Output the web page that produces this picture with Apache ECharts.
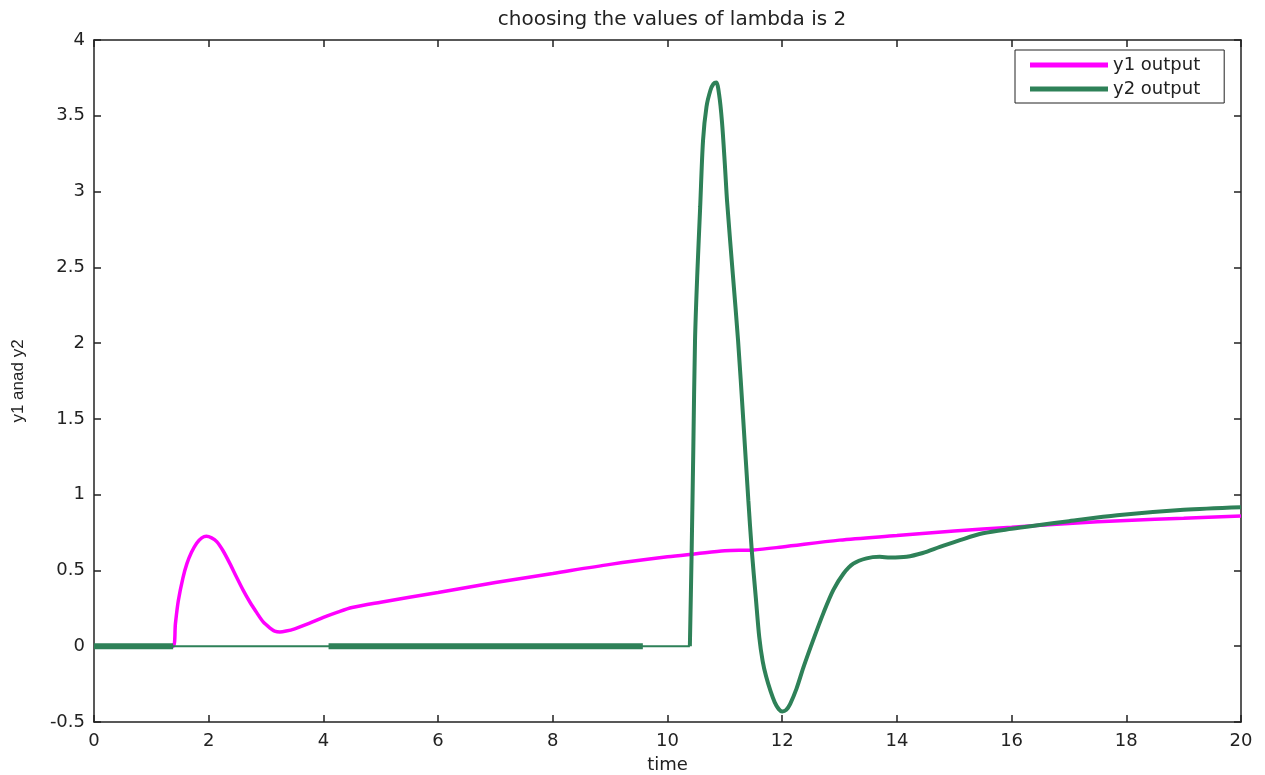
<!DOCTYPE html>
<html>
<head>
	<meta http-equiv="Content-Type" content="text/html;charset=utf-8">
	<title>choosing the values of lambda is 2</title>
	<style>
		html, body{ margin:0; padding:0; background:#fff; }
		#chart{ width:1265px; height:775px; }
	</style>
</head>
<body>
<div id="chart"></div>
<script src="https://cdn.jsdelivr.net/npm/echarts@6/dist/echarts.min.js"></script>
<script>
	// y1 output (magenta)
	var y1Time = [0, 1.38, 1.42, 1.47, 1.55, 1.62, 1.70, 1.79, 1.88, 1.96, 2.05, 2.14, 2.25, 2.37, 2.48, 2.60, 2.72, 2.84, 2.95, 3.07, 3.15, 3.24, 3.35, 3.50, 3.75, 4.00, 4.25, 4.50, 5.00, 6.00, 7.00, 8.00, 9.00, 10.00, 10.50, 11.00, 11.50, 12.00, 13.00, 14.00, 15.00, 16.00, 17.00, 18.00, 19.00, 20.00];
	var y1Value = [0, 0, 0.15, 0.30, 0.45, 0.545, 0.62, 0.68, 0.715, 0.725, 0.715, 0.69, 0.63, 0.545, 0.46, 0.37, 0.29, 0.22, 0.16, 0.12, 0.10, 0.094, 0.10, 0.115, 0.15, 0.19, 0.225, 0.255, 0.29, 0.355, 0.42, 0.48, 0.54, 0.59, 0.61, 0.63, 0.635, 0.655, 0.70, 0.73, 0.76, 0.785, 0.81, 0.83, 0.845, 0.86];

	// y2 output (green) after it leaves zero
	var y2Time = [10.39, 10.42, 10.45, 10.48, 10.52, 10.57, 10.62, 10.68, 10.75, 10.80, 10.85, 10.90, 10.95, 11.00, 11.04, 11.14, 11.23, 11.32, 11.41, 11.47, 11.54, 11.60, 11.66, 11.72, 11.80, 11.87, 11.94, 12.00, 12.07, 12.14, 12.25, 12.37, 12.54, 12.72, 12.89, 13.07, 13.24, 13.47, 13.70, 13.88, 14.17, 14.45, 14.75, 15.10, 15.50, 16.00, 16.49, 17.00, 17.84, 19.00, 20.00];
	var y2Value = [0, 0.6, 1.3, 2.02, 2.46, 2.90, 3.34, 3.56, 3.67, 3.71, 3.72, 3.64, 3.46, 3.18, 2.93, 2.45, 2.02, 1.50, 0.96, 0.63, 0.32, 0.06, -0.10, -0.20, -0.30, -0.37, -0.415, -0.43, -0.42, -0.38, -0.28, -0.14, 0.04, 0.22, 0.37, 0.48, 0.545, 0.58, 0.59, 0.585, 0.59, 0.615, 0.655, 0.70, 0.745, 0.775, 0.80, 0.825, 0.864, 0.90, 0.917];

	// y2 sits at zero before the spike; some stretches are drawn heavier
	var y2ZeroTime = [0, 10.39];
	var y2HeavyStart = [0, 4.09];
	var y2HeavyEnd = [1.38, 9.57];

	var xTicks = [0, 20, 2];
	var yTicks = [-0.5, 4, 0.5];

	var magenta = '#ff00ff';
	var green = '#2e8158';
	var ink = '#222';
	var font = 'DejaVu Sans';

	function pairs(xs, ys){
		var out = [];
		for(var i = 0; i < xs.length; i++){
			out.push([xs[i], ys[i]]);
		}
		return out;
	}

	var series = [
		{
			name : 'y1 output',
			type : 'line',
			data : pairs(y1Time, y1Value),
			showSymbol : false,
			smooth : 0.3,
			lineStyle : { color : magenta, width : 3.5 },
			itemStyle : { color : magenta },
			z : 2
		},
		{
			name : 'y2 base',
			type : 'line',
			data : pairs(y2ZeroTime, [0, 0]),
			showSymbol : false,
			lineStyle : { color : green, width : 2 },
			z : 3
		}
	];
	for(var k = 0; k < y2HeavyStart.length; k++){
		series.push({
			name : 'y2 heavy',
			type : 'line',
			data : [[y2HeavyStart[k], 0], [y2HeavyEnd[k], 0]],
			showSymbol : false,
			lineStyle : { color : green, width : 6 },
			z : 3
		});
	}
	series.push({
		name : 'y2 output',
		type : 'line',
		data : pairs(y2Time, y2Value),
		showSymbol : false,
		smooth : 0.3,
		lineStyle : { color : green, width : 4 },
		itemStyle : { color : green },
		z : 4
	});

	var axisLine = { onZero : false, lineStyle : { color : ink, width : 1.5 } };
	var axisTick = { inside : true, length : 7, lineStyle : { color : ink, width : 1.5 } };

	var option = {
		animation : false,
		backgroundColor : '#fff',
		title : {
			text : 'choosing the values of lambda is 2',
			left : 667,
			textAlign : 'center',
			top : 5,
			textStyle : { color : ink, fontFamily : font, fontSize : 20, fontWeight : 'normal' }
		},
		legend : {
			data : ['y1 output', 'y2 output'],
			orient : 'vertical',
			left : 1015,
			top : 50,
			backgroundColor : '#fff',
			borderColor : ink,
			borderWidth : 1,
			padding : [6, 24, 5, 15],
			itemGap : 6,
			itemWidth : 78,
			itemHeight : 5,
			icon : 'rect',
			textStyle : { color : ink, fontFamily : font, fontSize : 18 }
		},
		grid : {
			left : 94,
			right : 24,
			top : 40,
			bottom : 53,
			outerBoundsMode : 'none'
		},
		xAxis : [
			{
				type : 'value',
				min : xTicks[0],
				max : xTicks[1],
				interval : xTicks[2],
				name : 'time',
				nameLocation : 'middle',
				nameGap : 34,
				nameTextStyle : { color : ink, fontFamily : font, fontSize : 18 },
				axisLine : axisLine,
				axisTick : axisTick,
				axisLabel : { color : ink, fontFamily : font, fontSize : 18, margin : 10 },
				splitLine : { show : false }
			},
			{
				type : 'value',
				position : 'top',
				min : xTicks[0],
				max : xTicks[1],
				interval : xTicks[2],
				axisLine : axisLine,
				axisTick : axisTick,
				axisLabel : { show : false },
				splitLine : { show : false }
			}
		],
		yAxis : [
			{
				type : 'value',
				min : yTicks[0],
				max : yTicks[1],
				interval : yTicks[2],
				name : 'y1 anad y2',
				nameLocation : 'middle',
				nameGap : 67,
				nameTextStyle : { color : ink, fontFamily : 'Liberation Sans', fontSize : 17 },
				axisLine : axisLine,
				axisTick : axisTick,
				axisLabel : { color : ink, fontFamily : font, fontSize : 18, margin : 9 },
				splitLine : { show : false }
			},
			{
				type : 'value',
				position : 'right',
				min : yTicks[0],
				max : yTicks[1],
				interval : yTicks[2],
				axisLine : axisLine,
				axisTick : axisTick,
				axisLabel : { show : false },
				splitLine : { show : false }
			}
		],
		series : series
	};

	var myChart = echarts.init(document.getElementById('chart'));
	myChart.setOption(option);
</script>
</body>
</html>
